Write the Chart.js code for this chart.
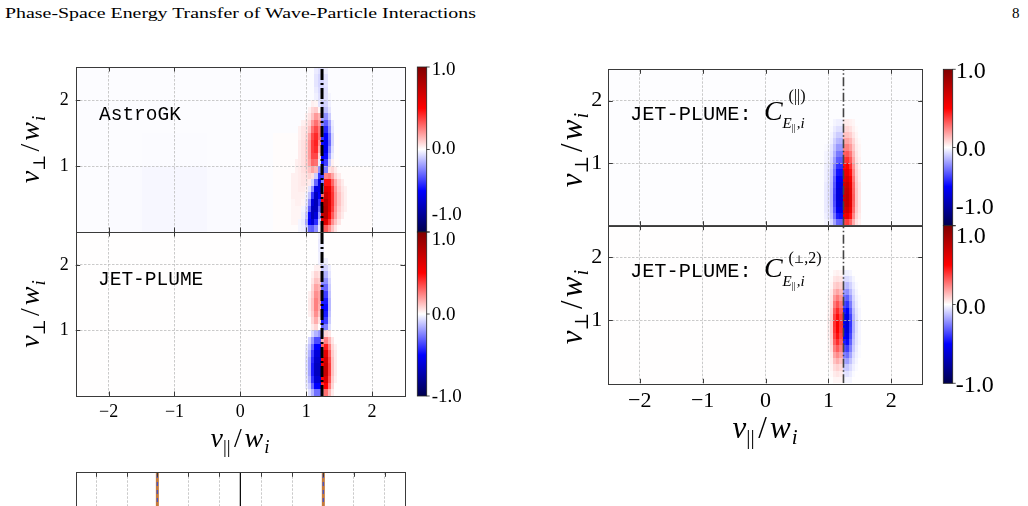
<!DOCTYPE html>
<html><head><meta charset="utf-8">
<script src="https://cdn.jsdelivr.net/npm/chart.js@4.4.1/dist/chart.umd.min.js"></script>
<style>
html,body{margin:0;padding:0;background:#fff;}
body{width:1028px;height:506px;overflow:hidden;position:relative;}
canvas{position:absolute;left:0;top:0;}
.hdr{position:absolute;font-family:"Liberation Serif",serif;font-size:15px;line-height:15px;color:#000;white-space:nowrap;transform-origin:0 0;}
</style></head><body>
<div id="hdrL" class="hdr" style="left:5px;top:6px">Phase-Space Energy Transfer of Wave-Particle Interactions</div>
<div id="hdrR" class="hdr" style="left:1012px;top:6px">8</div>
<canvas id="cL1" width="1028" height="506"></canvas>
<canvas id="cL2" width="1028" height="506"></canvas>
<canvas id="cR1" width="1028" height="506"></canvas>
<canvas id="cR2" width="1028" height="506"></canvas>
<canvas id="bL1" width="1028" height="506"></canvas>
<canvas id="bL2" width="1028" height="506"></canvas>
<canvas id="bR1" width="1028" height="506"></canvas>
<canvas id="bR2" width="1028" height="506"></canvas>
<canvas id="cB" width="1028" height="560"></canvas>
<script>
// ---------------- DATA ----------------
const vParRange = [-2.5, 2.5];
const vPerpRange = [0, 2.5];
const vParTicks = [-2, -1, 0, 1, 2];
const vPerpTicks = [1, 2];
const colorbarTicks = [-1, 0, 1];
const colorbarTickLabels = ['-1.0', '0.0', '1.0'];
const resonantVelocity = 1.24;
const bottomPanelTicks = [-2.19, -1.72, -1.26, -0.79, -0.32, 0.32, 0.79, 1.26, 1.72, 2.19];
const bottomPanelLines = [-1.26, 1.26];

// heat-map cell centres (v_par, v_perp); values in percent of colour range
const vParCells = [0.80,0.85,0.90,0.95,1.00,1.05,1.10,1.15,1.20,1.25,1.30,1.35,1.40,1.45,1.50,1.55,1.60,1.65,1.70];
const vPerpCells = [2.45,2.35,2.25,2.15,2.05,1.95,1.85,1.75,1.65,1.55,1.45,1.35,1.25,1.15,1.05,0.95,0.85,0.75,0.65,0.55,0.45,0.35,0.25,0.15,0.05];
const coarseVPar = [-2.25,-1.75,-1.25,-0.75,-0.25,0.25,0.75,1.25,1.75,2.25];
const coarseVPerp = [2.25,1.75,1.25,0.75,0.25];

const astroGKBackground = [
 [-0.5,-0.5,-0.5,-0.5,-0.5,-0.5,-0.5,-0.5,-0.5,-0.5],
 [-0.5,-0.5,-0.5,-0.5,-0.5,-0.5,-0.5,-0.5,-0.5,-0.5],
 [-0.5,-0.5,-0.8,-0.8,-0.5,-0.5,0.5,0.5,-0.5,-0.5],
 [-0.5,-1,-1.5,-1.5,-1,-0.5,0.5,1,0.5,-0.5],
 [-0.5,-1,-1.5,-1.5,-1,-0.5,0.5,1,0.5,-0.5]];

const astroGK = [
 [0,0,0,0,0,0,0,-4,-6,-6,-3,0,0,0,0,0,0,0,0],
 [0,0,0,0,0,0,0,-5,-8,-8,-5,0,0,0,0,0,0,0,0],
 [0,0,0,0,0,0,0,-5,-8,-8,-5,0,0,0,0,0,0,0,0],
 [0,0,0,0,0,0,0,-4,-7,-8,-6,0,0,0,0,0,0,0,0],
 [0,0,0,0,0,0,0,-3,-6,-8,-6,-2,0,0,0,0,0,0,0],
 [0,0,0,0,0,0,3,2,-5,-10,-8,-3,0,0,0,0,0,0,0],
 [0,0,0,0,0,3,8,10,2,-12,-12,-5,0,0,0,0,0,0,0],
 [0,0,0,0,3,5,12,20,15,-18,-22,-10,0,0,0,0,0,0,0],
 [0,0,0,3,5,8,20,28,20,-25,-32,-18,-4,0,0,0,0,0,0],
 [0,0,3,5,6,12,28,36,26,-32,-42,-22,-5,0,0,0,0,0,0],
 [0,0,3,5,8,18,35,42,28,-40,-50,-28,-8,0,0,0,0,0,0],
 [0,0,4,6,10,20,38,44,22,-48,-55,-30,-8,0,0,0,0,0,0],
 [0,0,4,6,10,20,38,42,16,-52,-55,-24,-6,0,0,0,0,0,0],
 [0,0,4,6,10,20,36,36,8,-50,-48,-18,-4,0,0,0,0,0,0],
 [0,3,4,6,10,18,30,28,-4,-48,-38,-10,3,0,0,0,0,0,0],
 [0,3,4,6,8,12,18,14,-22,-45,-25,6,8,4,0,0,0,0,0],
 [3,3,4,5,6,8,6,-10,-40,-38,24,26,18,8,4,0,0,0,0],
 [3,3,4,5,5,4,-8,-30,-58,-25,46,46,30,16,8,4,0,0,0],
 [3,3,4,4,3,-5,-22,-58,-58,-10,60,56,38,20,10,5,3,0,0],
 [3,3,3,3,-3,-12,-40,-68,-50,30,70,60,40,22,12,6,3,0,0],
 [2,3,3,2,-5,-22,-60,-70,-40,50,78,62,40,22,12,6,3,0,0],
 [2,2,2,-2,-8,-32,-68,-68,-30,68,80,60,38,20,10,5,3,0,0],
 [2,2,2,-3,-12,-48,-70,-60,-20,72,78,52,32,18,8,4,0,0,0],
 [2,2,-2,-4,-18,-50,-62,-42,-10,62,62,40,22,12,5,0,0,0,0],
 [0,0,-2,-3,-10,-30,-32,-22,-4,32,32,22,12,5,0,0,0,0,0]];

const jetPlume = [
 [0,0,0,0,0,0,0,0,-3,-3,0,0,0,0,0,0,0,0,0],
 [0,0,0,0,0,0,0,0,-4,-4,0,0,0,0,0,0,0,0,0],
 [0,0,0,0,0,0,0,0,-4,-4,0,0,0,0,0,0,0,0,0],
 [0,0,0,0,0,0,0,0,-3,-3,0,0,0,0,0,0,0,0,0],
 [0,0,0,0,0,0,0,0,-3,-5,-3,0,0,0,0,0,0,0,0],
 [0,0,0,0,0,0,0,3,3,-10,-8,-3,0,0,0,0,0,0,0],
 [0,0,0,0,0,0,3,8,6,-15,-15,-5,0,0,0,0,0,0,0],
 [0,0,0,0,0,0,5,12,10,-22,-22,-8,0,0,0,0,0,0,0],
 [0,0,0,0,0,0,8,18,15,-30,-30,-10,0,0,0,0,0,0,0],
 [0,0,0,0,0,3,10,22,18,-38,-38,-12,0,0,0,0,0,0,0],
 [0,0,0,0,0,4,12,25,18,-45,-45,-14,0,0,0,0,0,0,0],
 [0,0,0,0,0,4,12,25,16,-50,-48,-14,0,0,0,0,0,0,0],
 [0,0,0,0,0,3,10,22,12,-50,-45,-12,0,0,0,0,0,0,0],
 [0,0,0,0,0,0,8,16,6,-45,-38,-10,0,0,0,0,0,0,0],
 [0,0,0,0,0,0,4,8,0,-30,-25,-6,0,0,0,0,0,0,0],
 [0,0,0,0,0,0,-8,-15,-20,-10,8,5,0,0,0,0,0,0,0],
 [0,0,0,0,0,-8,-20,-35,-35,15,25,15,5,0,0,0,0,0,0],
 [0,0,0,0,-4,-12,-30,-50,-50,30,45,25,8,3,0,0,0,0,0],
 [0,0,0,0,-5,-15,-38,-60,-60,42,60,32,10,4,0,0,0,0,0],
 [0,0,0,0,-6,-18,-42,-65,-65,50,68,36,12,4,0,0,0,0,0],
 [0,0,0,0,-6,-18,-45,-68,-68,55,72,38,12,4,0,0,0,0,0],
 [0,0,0,0,-6,-18,-45,-68,-68,55,72,38,12,4,0,0,0,0,0],
 [0,0,0,0,-5,-15,-40,-62,-62,50,65,34,10,3,0,0,0,0,0],
 [0,0,0,0,-4,-10,-30,-50,-50,40,50,26,8,0,0,0,0,0,0],
 [0,0,0,0,0,-6,-15,-28,-28,22,28,14,4,0,0,0,0,0,0]];

const jetPlumeParallel = [
 [0,0,0,0,0,0,0,0,0,0,0,0,0,0,0,0,0,0,0],
 [0,0,0,0,0,0,0,0,0,0,0,0,0,0,0,0,0,0,0],
 [0,0,0,0,0,0,0,0,0,0,0,0,0,0,0,0,0,0,0],
 [0,0,0,0,0,0,0,0,0,0,0,0,0,0,0,0,0,0,0],
 [0,0,0,0,0,0,0,0,0,0,0,0,0,0,0,0,0,0,0],
 [0,0,0,0,0,0,0,0,0,0,0,0,0,0,0,0,0,0,0],
 [0,0,0,0,0,0,0,0,0,0,0,0,0,0,0,0,0,0,0],
 [0,0,0,0,0,0,0,0,0,0,0,0,0,0,0,0,0,0,0],
 [0,0,0,0,0,0,-2,-3,-3,4,4,3,2,0,0,0,0,0,0],
 [0,0,0,0,0,-1,-4,-6,-6,7,8,6,3,1,0,0,0,0,0],
 [0,0,0,0,0,-2,-6,-10,-10,12,12,10,5,2,0,0,0,0,0],
 [0,0,0,0,-1,-3,-9,-14,-15,17,18,15,8,3,1,0,0,0,0],
 [0,0,0,-1,-2,-5,-12,-20,-20,24,25,20,11,4,2,0,0,0,0],
 [0,0,0,-2,-3,-6,-15,-26,-27,31,33,27,14,5,2,0,0,0,0],
 [0,0,0,-2,-3,-8,-19,-32,-33,39,41,33,17,6,3,0,0,0,0],
 [0,0,0,-3,-4,-9,-24,-40,-41,48,50,41,21,8,3,0,0,0,0],
 [0,0,0,-3,-5,-11,-27,-46,-47,55,58,47,24,9,4,0,0,0,0],
 [0,0,0,-3,-5,-12,-31,-51,-53,61,65,53,27,10,4,0,0,0,0],
 [0,0,0,-4,-6,-13,-33,-56,-58,67,71,58,30,11,5,0,0,0,0],
 [0,0,0,-4,-6,-14,-35,-59,-61,71,74,61,31,12,5,0,0,0,0],
 [0,0,0,-4,-6,-14,-36,-60,-62,72,76,62,32,12,5,0,0,0,0],
 [0,0,0,-4,-6,-14,-35,-59,-61,71,74,61,31,12,5,0,0,0,0],
 [0,0,0,-4,-5,-13,-32,-54,-56,65,68,56,29,11,5,0,0,0,0],
 [0,0,0,-3,-5,-11,-27,-45,-47,54,57,47,24,9,4,0,0,0,0],
 [0,0,0,-2,-3,-7,-18,-30,-31,36,38,31,16,6,3,0,0,0,0]];

const jetPlumePerp2 = [
 [0,0,0,0,0,0,0,0,0,0,0,0,0,0,0,0,0,0,0],
 [0,0,0,0,0,0,0,0,0,0,0,0,0,0,0,0,0,0,0],
 [0,0,0,0,0,0,0,0,0,0,0,0,0,0,0,0,0,0,0],
 [0,0,0,0,0,0,0,0,0,0,0,0,0,0,0,0,0,0,0],
 [0,0,0,0,0,0,0,0,0,0,0,0,0,0,0,0,0,0,0],
 [0,0,0,0,0,0,0,0,0,0,0,0,0,0,0,0,0,0,0],
 [0,0,0,0,0,0,0,0,0,0,0,0,0,0,0,0,0,0,0],
 [0,0,0,0,0,0,2,3,2,-3,-3,-2,0,0,0,0,0,0,0],
 [0,0,0,0,0,1,5,6,5,-7,-7,-5,-2,0,0,0,0,0,0],
 [0,0,0,0,0,2,9,11,9,-12,-14,-9,-4,-1,0,0,0,0,0],
 [0,0,0,0,1,4,14,18,14,-20,-22,-14,-6,-2,0,0,0,0,0],
 [0,0,0,0,2,5,20,26,20,-28,-31,-20,-8,-3,-1,0,0,0,0],
 [0,0,0,0,2,6,26,34,26,-36,-40,-26,-10,-4,-1,0,0,0,0],
 [0,0,0,0,2,8,32,42,32,-45,-50,-32,-13,-5,-2,0,0,0,0],
 [0,0,0,0,3,9,37,48,37,-52,-57,-37,-15,-6,-2,0,0,0,0],
 [0,0,0,0,3,10,40,52,40,-56,-62,-40,-16,-6,-2,0,0,0,0],
 [0,0,0,0,3,10,39,51,39,-55,-61,-39,-16,-6,-2,0,0,0,0],
 [0,0,0,0,3,9,36,47,36,-50,-56,-36,-14,-5,-2,0,0,0,0],
 [0,0,0,0,2,8,31,41,31,-44,-48,-31,-12,-5,-2,0,0,0,0],
 [0,0,0,0,2,6,25,32,25,-35,-38,-25,-10,-4,-1,0,0,0,0],
 [0,0,0,0,1,4,18,23,18,-25,-28,-18,-7,-3,-1,0,0,0,0],
 [0,0,0,0,1,3,12,16,12,-17,-19,-12,-5,-2,0,0,0,0,0],
 [0,0,0,0,0,2,7,9,7,-10,-11,-7,-3,-1,0,0,0,0,0],
 [0,0,0,0,0,1,4,5,4,-5,-6,-4,-1,0,0,0,0,0,0],
 [0,0,0,0,0,0,2,2,2,-2,-2,-2,0,0,0,0,0,0,0]];

const panelBackgroundLevels = [0.25, -0.3, 0.25]; // JET-PLUME left, right-top, right-bottom

// ---------------- helpers ----------------
const SEISMIC = [[0,0,77],[0,0,255],[255,255,255],[255,0,0],[128,0,0]];
function seismic(v){
  const t = (Math.max(-1, Math.min(1, v)) + 1) * 2;
  const i = Math.min(3, Math.floor(t)), f = t - i, a = SEISMIC[i], b = SEISMIC[i+1];
  return 'rgb(' + [0,1,2].map(k => Math.round(a[k] + (b[k]-a[k]) * f)).join(',') + ')';
}
function edges(c){
  return c.map((v, j) => [
    j > 0 ? (c[j-1] + v) / 2 : v - (c[1] - c[0]) / 2,
    j < c.length - 1 ? (v + c[j+1]) / 2 : v + (v - c[j-1]) / 2]);
}
const fmtTick = v => (v < 0 ? '\u2212' + (-v) : String(v));

function drawRich(ctx, parts, x, y, align){
  let cx = 0, mark = 0, maxX = 0;
  const pos = [];
  for (const p of parts){
    ctx.font = p.font;
    if (p.back) cx = mark;
    if (p.mark) mark = cx;
    cx += p.pre || 0;
    pos.push([cx, p]);
    cx += ctx.measureText(p.text).width + (p.post || 0);
    maxX = Math.max(maxX, cx);
  }
  const x0 = align === 'center' ? x - maxX / 2 : x;
  ctx.fillStyle = '#000';
  ctx.textBaseline = 'alphabetic';
  ctx.textAlign = 'left';
  for (const [px, p] of pos){ ctx.font = p.font; ctx.fillText(p.text, x0 + px, y + (p.dy || 0)); }
}

const heatmapPlugin = {
  id: 'heatmap',
  beforeDraw(chart, args, opts){
    if (!opts || !opts.layers) return;
    const {ctx, chartArea: a, scales: {x, y}} = chart;
    ctx.save();
    ctx.beginPath(); ctx.rect(a.left, a.top, a.right - a.left, a.bottom - a.top); ctx.clip();
    if (opts.background != null){
      ctx.fillStyle = seismic(opts.background / 100);
      ctx.fillRect(a.left, a.top, a.right - a.left, a.bottom - a.top);
    }
    for (const L of opts.layers){
      const xe = edges(L.cols), ye = edges(L.rows);
      L.values.forEach((row, i) => row.forEach((val, j) => {
        if (!val) return;
        const x0 = Math.round(x.getPixelForValue(xe[j][0])), x1 = Math.round(x.getPixelForValue(xe[j][1]));
        const y0 = Math.round(y.getPixelForValue(ye[i][0])), y1 = Math.round(y.getPixelForValue(ye[i][1]));
        ctx.fillStyle = seismic(val / 100);
        ctx.fillRect(Math.min(x0, x1), Math.min(y0, y1), Math.abs(x1 - x0), Math.abs(y1 - y0));
      }));
    }
    ctx.restore();
  }
};

const framePlugin = {
  id: 'frame',
  afterDraw(chart, args, opts){
    if (!opts || !opts.color) return;
    const {ctx, chartArea: a, scales: {x, y}} = chart;
    ctx.save();
    ctx.strokeStyle = opts.color; ctx.lineWidth = opts.width || 1;
    ctx.setLineDash([]);
    const len = opts.tickLen || 4;
    ctx.beginPath();
    for (const t of x.ticks){
      const px = Math.round(x.getPixelForValue(t.value)) + 0.5;
      ctx.moveTo(px, a.bottom); ctx.lineTo(px, a.bottom - len);
      ctx.moveTo(px, a.top); ctx.lineTo(px, a.top + len);
    }
    if (y.options.display){
      for (const t of y.ticks){
        const py = Math.round(y.getPixelForValue(t.value)) + 0.5;
        ctx.moveTo(a.left, py); ctx.lineTo(a.left + len, py);
        ctx.moveTo(a.right, py); ctx.lineTo(a.right - len, py);
      }
    }
    ctx.stroke();
    ctx.strokeRect(Math.round(a.left) + 0.5, Math.round(a.top) + 0.5, Math.round(a.right - a.left), Math.round(a.bottom - a.top));
    ctx.restore();
  }
};

const richTextPlugin = {
  id: 'richText',
  afterDraw(chart, args, opts){
    if (!opts || !opts.items) return;
    const ctx = chart.ctx;
    for (const it of opts.items){
      ctx.save();
      if (it.rotate){
        ctx.translate(it.x, it.y); ctx.rotate(-Math.PI / 2);
        drawRich(ctx, it.parts, 0, 0, it.align);
      } else drawRich(ctx, it.parts, it.x, it.y, it.align);
      ctx.restore();
    }
  }
};

const colorbarPlugin = {
  id: 'colorbar',
  afterDraw(chart, args, opts){
    if (!opts || !opts.font) return;
    const {ctx, chartArea: a, scales: {y}} = chart;
    const top = y.getPixelForValue(1), bot = y.getPixelForValue(-1);
    const g = ctx.createLinearGradient(0, top, 0, bot);
    [[0, 4], [0.25, 3], [0.5, 2], [0.75, 1], [1, 0]].forEach(([s, k]) => g.addColorStop(s, 'rgb(' + SEISMIC[k].join(',') + ')'));
    ctx.save();
    ctx.fillStyle = g;
    ctx.fillRect(a.left, top, a.right - a.left, bot - top);
    ctx.strokeStyle = '#222'; ctx.lineWidth = 0.8;
    ctx.strokeRect(a.left, top, a.right - a.left, bot - top);
    ctx.beginPath();
    colorbarTicks.forEach(v => { const py = y.getPixelForValue(v); ctx.moveTo(a.right, py); ctx.lineTo(a.right + 3, py); });
    ctx.stroke();
    ctx.fillStyle = '#000'; ctx.font = opts.font; ctx.textBaseline = 'middle'; ctx.textAlign = 'left';
    colorbarTicks.forEach((v, i) => ctx.fillText(colorbarTickLabels[i], a.right + opts.gap, y.getPixelForValue(v) + opts.offsets[i]));
    ctx.restore();
  }
};
Chart.register(heatmapPlugin, framePlugin, richTextPlugin, colorbarPlugin);
Chart.defaults.font.family = '"Liberation Serif"';

// ---------------- label builders ----------------
const SERIF = '"Liberation Serif"';
function velLabel(F, sym, symFont){
  return [
    {text: 'v', font: `italic ${F}px ${SERIF}`},
    {text: sym, font: symFont, dy: Math.round(F * 0.2)},
    {text: '/', font: `${F}px ${SERIF}`, pre: F * 0.12, post: F * 0.1},
    {text: 'w', font: `italic ${F}px ${SERIF}`},
    {text: 'i', font: `italic ${Math.round(F * 0.68)}px ${SERIF}`, dy: Math.round(F * 0.2), pre: 1}];
}
const perpLabel = F => velLabel(F, '\u22A5', `${Math.round(F * 0.62)}px "DejaVu Serif"`);
const parLabel = F => velLabel(F, '||', `${Math.round(F * 0.68)}px ${SERIF}`);
function corrLabel(supParts, supDy, subDy){
  const sup = `16px ${SERIF}`, sub = `italic 15px ${SERIF}`;
  const out = [
    {text: 'JET-PLUME: ', font: '20.3px "Liberation Mono"'},
    {text: 'C', font: `italic 28px ${SERIF}`}];
  supParts.forEach((p, i) => out.push(Object.assign({font: sup, dy: supDy}, i === 0 ? {mark: true, pre: 6} : {}, p)));
  out.push({text: 'E', font: sub, dy: subDy, back: true});
  out.push({text: '||', font: `10px ${SERIF}`, dy: subDy + 3});
  out.push({text: ',i', font: sub, dy: subDy, pre: 1});
  return out;
}

// ---------------- chart builders ----------------
const gridStyle = {color: '#bdbdbd', lineWidth: 0.8, drawTicks: false};
const Y_AXIS_W = 50, X_AXIS_H = 40;
function panel(id, box, o){
  const cv = document.getElementById(id);
  const W = cv.width, H = cv.height;
  return new Chart(cv, {
    type: 'scatter',
    data: {datasets: o.datasets},
    options: {
      responsive: false, animation: false, devicePixelRatio: 1, events: [],
      layout: {padding: {left: box.left - Y_AXIS_W, top: box.top, right: W - box.right, bottom: H - box.bottom - X_AXIS_H}},
      plugins: {legend: {display: false}, tooltip: {enabled: false},
        heatmap: o.heatmap || {}, frame: {color: '#3a3a3a', width: 1, tickLen: 4.5}, richText: {items: o.texts || []}},
      scales: {
        x: {type: 'linear', min: vParRange[0], max: vParRange[1],
          afterFit: s => { s.height = X_AXIS_H; s.paddingLeft = 0; s.paddingRight = 0; },
          afterBuildTicks: s => { s.ticks = o.xTicks.map(v => ({value: v})); },
          grid: gridStyle, border: {display: false, dash: [2.5, 1.5]},
          ticks: {display: !!o.xFont, autoSkip: false, maxRotation: 0, minRotation: 0, padding: o.xPad || 5, color: '#000', font: o.xFont, callback: fmtTick}},
        y: {type: 'linear', display: true, min: o.yRange[0], max: o.yRange[1],
          afterFit: s => { s.width = Y_AXIS_W; s.paddingTop = 0; s.paddingBottom = 0; },
          afterBuildTicks: s => { s.ticks = (o.yTicks || []).map(v => ({value: v})); },
          grid: gridStyle, border: {display: false, dash: [2.5, 1.5]},
          ticks: {display: !!o.yFont, autoSkip: false, padding: o.yPad || 7, color: '#000', font: o.yFont, callback: fmtTick}}
      }
    }
  });
}
function colorbar(id, box, font, gap, offsets){
  const cv = document.getElementById(id);
  return new Chart(cv, {
    type: 'scatter', data: {datasets: []},
    options: {
      responsive: false, animation: false, devicePixelRatio: 1, events: [],
      layout: {padding: {left: box.left, top: box.top, right: cv.width - box.right, bottom: cv.height - box.bottom}},
      plugins: {legend: {display: false}, tooltip: {enabled: false}, colorbar: {font, gap, offsets}},
      scales: {x: {display: false, min: 0, max: 1}, y: {display: false, min: colorbarTicks[0], max: colorbarTicks[2]}}
    }
  });
}
function resonanceLine(color, width, dash){
  return {data: [{x: resonantVelocity, y: vPerpRange[0]}, {x: resonantVelocity, y: vPerpRange[1]}],
    showLine: true, borderColor: color, borderWidth: width, borderDash: dash, pointRadius: 0, borderCapStyle: 'butt'};
}

const fineLayer = values => ({cols: vParCells, rows: vPerpCells, values});
const L = {left: 75.7, right: 405};
const R = {left: 608.3, right: 922.7};
const leftTick = {size: 18, family: SERIF};
const rightTick = {size: 22, family: SERIF};

panel('cL1', {left: L.left, right: L.right, top: 67, bottom: 232}, {
  datasets: [resonanceLine('#000', 3, [11, 3, 2, 3])],
  heatmap: {layers: [{cols: coarseVPar, rows: coarseVPerp, values: astroGKBackground}, fineLayer(astroGK)]},
  xTicks: vParTicks, yTicks: vPerpTicks, yRange: vPerpRange, yFont: leftTick, yPad: 7,
  texts: [
    {x: 99, y: 120, parts: [{text: 'AstroGK', font: '19.5px "Liberation Mono"'}]},
    {x: 39, y: 149.5, rotate: true, align: 'center', parts: perpLabel(28)}]
});
panel('cL2', {left: L.left, right: L.right, top: 232, bottom: 396}, {
  datasets: [resonanceLine('#000', 3, [11, 3, 2, 3])],
  heatmap: {background: panelBackgroundLevels[0], layers: [fineLayer(jetPlume)]},
  xTicks: vParTicks, xFont: leftTick, xPad: 5, yTicks: vPerpTicks, yRange: vPerpRange, yFont: leftTick, yPad: 7,
  texts: [
    {x: 98, y: 285, parts: [{text: 'JET-PLUME', font: '19.5px "Liberation Mono"'}]},
    {x: 39, y: 314, rotate: true, align: 'center', parts: perpLabel(28)},
    {x: 240, y: 447, align: 'center', parts: parLabel(28)}]
});
panel('cR1', {left: R.left, right: R.right, top: 69.3, bottom: 225.7}, {
  datasets: [resonanceLine('#444', 1.6, [9, 2.5, 1.5, 2.5])],
  heatmap: {background: panelBackgroundLevels[1], layers: [fineLayer(jetPlumeParallel)]},
  xTicks: vParTicks, yTicks: vPerpTicks, yRange: vPerpRange, yFont: rightTick, yPad: 6,
  texts: [
    {x: 630, y: 120, parts: corrLabel([{text: '(||)'}], -19, 8)},
    {x: 582, y: 150, rotate: true, align: 'center', parts: perpLabel(31)}]
});
panel('cR2', {left: R.left, right: R.right, top: 225.7, bottom: 383.3}, {
  datasets: [resonanceLine('#444', 1.6, [9, 2.5, 1.5, 2.5])],
  heatmap: {background: panelBackgroundLevels[2], layers: [fineLayer(jetPlumePerp2)]},
  xTicks: vParTicks, xFont: rightTick, xPad: 5, yTicks: vPerpTicks, yRange: vPerpRange, yFont: rightTick, yPad: 6,
  texts: [
    {x: 630, y: 277, parts: corrLabel([{text: '('}, {text: '\u22A5', font: `11px "DejaVu Serif"`}, {text: ',2)'}], -14, 9)},
    {x: 582, y: 307, rotate: true, align: 'center', parts: perpLabel(31)},
    {x: 765, y: 438, align: 'center', parts: parLabel(31)}]
});

colorbar('bL1', {left: 417.3, right: 426.7, top: 67, bottom: 232}, `19px ${SERIF}`, 5, [-17, 0, 3]);
colorbar('bL2', {left: 417.3, right: 426.7, top: 232, bottom: 396}, `19px ${SERIF}`, 5, [1, 1, 8]);
colorbar('bR1', {left: 943.3, right: 952.7, top: 69.3, bottom: 225.7}, `24px ${SERIF}`, 3, [-18, 2, 2]);
colorbar('bR2', {left: 943.3, right: 952.7, top: 225.7, bottom: 383.3}, `24px ${SERIF}`, 3, [2, 3, 11]);

// partial panel at the bottom of the page (blue dashed drawn on top of orange)
const vline = (x, color, width, dash) => ({data: [{x, y: 0}, {x, y: 1}], showLine: true, borderColor: color,
  borderWidth: width, borderDash: dash || [], pointRadius: 0, borderCapStyle: 'butt'});
panel('cB', {left: L.left, right: L.right, top: 472.3, bottom: 518}, {
  datasets: bottomPanelLines.map(v => vline(v, '#4b55c0', 1.4, [4, 4]))
    .concat(bottomPanelLines.map(v => vline(v, '#c47a3c', 3)))
    .concat([vline(0, '#000', 1.2)]),
  xTicks: bottomPanelTicks, yRange: [0, 1]
});

// header width match
const hl = document.getElementById('hdrL');
hl.style.transform = 'scaleX(' + (471 / hl.getBoundingClientRect().width) + ')';
</script>
</body></html>
